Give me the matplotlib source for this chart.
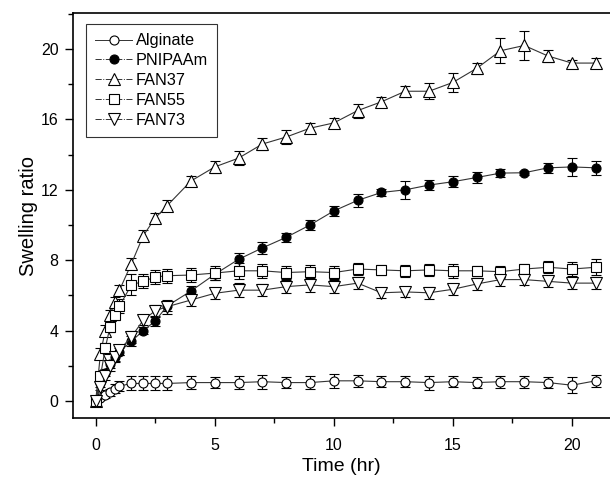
import numpy as np
import matplotlib.pyplot as plt
from matplotlib.ticker import MultipleLocator
from matplotlib.lines import Line2D

plt.rcParams['font.family'] = ['Liberation Sans', 'DejaVu Sans']

# time points (hr)
t = [0, 0.2, 0.4, 0.6, 0.8, 1.0, 1.5, 2, 2.5, 3, 4, 5, 6, 7, 8, 9, 10,
     11, 12, 13, 14, 15, 16, 17, 18, 19, 20, 21]

alginate = [0, 0.15, 0.35, 0.5, 0.7, 0.85, 1.0, 1.0, 1.0, 1.0, 1.05, 1.05, 1.05,
            1.1, 1.05, 1.05, 1.15, 1.15, 1.1, 1.1, 1.05, 1.1, 1.05, 1.1, 1.1,
            1.05, 0.9, 1.15]
alginate_err = [0, 0.1, 0.15, 0.2, 0.25, 0.3, 0.4, 0.4, 0.4, 0.4, 0.35, 0.3, 0.35,
                0.4, 0.3, 0.35, 0.4, 0.35, 0.3, 0.3, 0.4, 0.3, 0.3, 0.35, 0.35,
                0.3, 0.45, 0.35]

pnipaam = [0, 1.0, 1.6, 2.1, 2.5, 2.8, 3.4, 4.0, 4.55, 5.4, 6.25, 7.2, 8.05,
           8.7, 9.3, 10.0, 10.8, 11.4, 11.85, 12.0, 12.27, 12.46, 12.7, 12.95,
           12.97, 13.25, 13.3, 13.25]
pnipaam_err = [0, 0.2, 0.2, 0.2, 0.2, 0.2, 0.3, 0.2, 0.3, 0.3, 0.3, 0.3, 0.35,
               0.35, 0.25, 0.3, 0.3, 0.35, 0.2, 0.5, 0.3, 0.3, 0.3, 0.25, 0.1,
               0.3, 0.5, 0.4]

fan37 = [0, 2.7, 4.0, 4.9, 5.6, 6.3, 7.8, 9.4, 10.4, 11.1, 12.5, 13.3, 13.8,
         14.6, 15.0, 15.5, 15.8, 16.5, 17.0, 17.6, 17.6, 18.1, 18.9, 19.9,
         20.2, 19.6, 19.2, 19.2]
fan37_err = [0, 0.3, 0.3, 0.3, 0.3, 0.3, 0.3, 0.3, 0.3, 0.3, 0.3, 0.35, 0.4,
             0.35, 0.4, 0.3, 0.3, 0.4, 0.25, 0.3, 0.45, 0.55, 0.3, 0.7, 0.8,
             0.35, 0.2, 0.3]

fan55 = [0, 1.4, 3.0, 4.2, 4.9, 5.4, 6.6, 6.8, 7.05, 7.12, 7.16, 7.27, 7.4,
         7.4, 7.3, 7.35, 7.3, 7.5, 7.45, 7.4, 7.45, 7.4, 7.4, 7.35, 7.5, 7.6,
         7.5, 7.6]
fan55_err = [0, 0.2, 0.3, 0.3, 0.3, 0.4, 0.6, 0.4, 0.4, 0.4, 0.4, 0.4, 0.45,
             0.4, 0.35, 0.4, 0.35, 0.35, 0.3, 0.35, 0.35, 0.4, 0.3, 0.35, 0.3,
             0.35, 0.4, 0.45]

fan73 = [0, 0.8, 1.4, 2.0, 2.5, 2.9, 3.65, 4.6, 5.13, 5.36, 5.74, 6.12, 6.3,
         6.3, 6.5, 6.6, 6.5, 6.7, 6.15, 6.2, 6.15, 6.35, 6.65, 6.9, 6.9, 6.8,
         6.7, 6.7]
fan73_err = [0, 0.2, 0.2, 0.3, 0.3, 0.3, 0.35, 0.3, 0.35, 0.4, 0.35, 0.3, 0.4,
             0.35, 0.35, 0.4, 0.35, 0.35, 0.3, 0.3, 0.35, 0.3, 0.35, 0.35, 0.3,
             0.3, 0.35, 0.35]

series = [
    ('Alginate', alginate, alginate_err, 'o', 'white', 6.5, '-'),
    ('PNIPAAm', pnipaam, pnipaam_err, 'o', 'black', 6.5, '-.'),
    ('FAN37', fan37, fan37_err, '^', 'white', 8, '-.'),
    ('FAN55', fan55, fan55_err, 's', 'white', 6.5, '-.'),
    ('FAN73', fan73, fan73_err, 'v', 'white', 8, '-.'),
]

fig = plt.figure(figsize=(6.1, 4.78), dpi=100)
ax = fig.add_axes([0.119, 0.1245, 0.881, 0.8485])

handles = []
for name, y, err, m, fc, ms, ls in series:
    ax.errorbar(t, y, yerr=err, marker=m, ms=ms, mfc=fc, mec='black', mew=0.8,
                color='#333333', lw=0.8, ecolor='black', elinewidth=0.8,
                capsize=3.5, capthick=0.8)
    handles.append(Line2D([], [], marker=m, ms=ms, mfc=fc, mec='black', mew=0.8,
                          color='#333333', lw=0.7, ls=ls, label=name))

ax.set_xlim(-0.97, 21.6)
ax.set_ylim(-0.99, 22.05)
ax.xaxis.set_major_locator(MultipleLocator(5))
ax.xaxis.set_minor_locator(MultipleLocator(2.5))
ax.yaxis.set_major_locator(MultipleLocator(4))
ax.yaxis.set_minor_locator(MultipleLocator(2))
ax.tick_params(which='both', direction='out', labelsize=11.5, width=1)
ax.tick_params(which='major', length=6)
ax.tick_params(which='minor', length=3.5)
ax.tick_params(axis='x', which='major', pad=8)
ax.tick_params(axis='y', which='major', pad=4)
ax.spines['right'].set_visible(False)
for s in ['left', 'bottom', 'top']:
    ax.spines[s].set_linewidth(1.2)

ax.set_xlabel('Time (hr)', fontsize=14, labelpad=4)
ax.set_ylabel('Swelling ratio', fontsize=14.5, labelpad=2)

leg = ax.legend(handles=handles, loc='upper left', bbox_to_anchor=(0.025, 0.972),
                borderaxespad=0, fontsize=11.7, frameon=True, fancybox=False,
                edgecolor='black', handlelength=2.3, labelspacing=0.3,
                borderpad=0.55, handletextpad=0.2)
leg.get_frame().set_linewidth(0.8)

fig.savefig('out.png', dpi=100)
